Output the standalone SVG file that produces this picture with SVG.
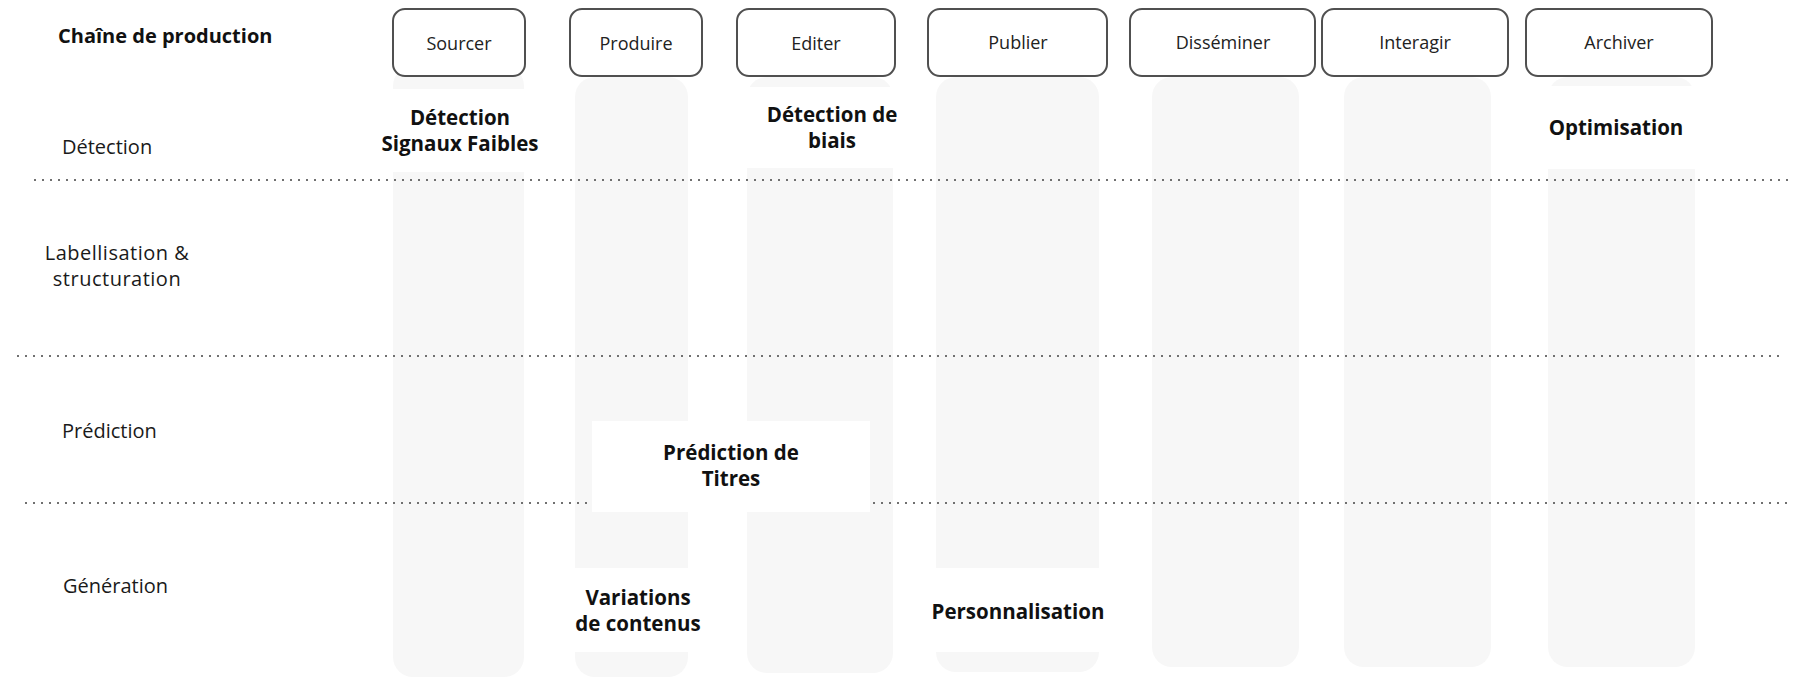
<svg xmlns="http://www.w3.org/2000/svg" width="1793" height="678" viewBox="0 0 1793 678">
<style>
.strip{fill:#f7f7f7}
.box{fill:#fff;stroke:#505050;stroke-width:2}
.bg{fill:#fff}
.sep{stroke:#707070;stroke-width:2;stroke-dasharray:2 6;fill:none}
.step{font-family:"Open Sans","Liberation Sans",sans-serif;font-size:18px;fill:#222;text-anchor:middle}
.row{font-family:"Open Sans","Liberation Sans",sans-serif;font-size:20px;fill:#1a1a1a}
.ctr{text-anchor:middle;letter-spacing:0.5px}
.uc{font-family:"Open Sans","Liberation Sans",sans-serif;font-size:20.5px;font-weight:700;fill:#111;text-anchor:middle}
.title{font-family:"Open Sans","Liberation Sans",sans-serif;font-size:20px;font-weight:700;fill:#111}
</style>
<rect width="1793" height="678" fill="#fff"/>
<g id="columns">
<rect class="strip" x="393" y="66" width="131" height="611" rx="20"/>
<rect class="strip" x="575" y="77" width="113" height="600" rx="20"/>
<rect class="strip" x="747" y="77" width="146" height="596" rx="20"/>
<rect class="strip" x="936" y="77" width="163" height="595" rx="20"/>
<rect class="strip" x="1152" y="77" width="147" height="590" rx="20"/>
<rect class="strip" x="1344" y="77" width="147" height="590" rx="20"/>
<rect class="strip" x="1548" y="77" width="147" height="590" rx="20"/>
</g>
<g id="connectors">
<line class="sep" x1="34" y1="180" x2="1793" y2="180"/>
<line class="sep" x1="17" y1="356" x2="1782" y2="356"/>
<line class="sep" x1="25" y1="503" x2="1793" y2="503"/>
</g>
<g id="title"><text class="title" x="58" y="43">Chaîne de production</text></g>
<g id="row-detection"><text class="row" x="62" y="154">Détection</text></g>
<g id="row-labellisation"><text class="row ctr" x="117" y="260">Labellisation &amp;</text><text class="row ctr" x="117" y="286">structuration</text></g>
<g id="row-prediction"><text class="row" x="62" y="438">Prédiction</text></g>
<g id="row-generation"><text class="row" x="63" y="593">Génération</text></g>
<g id="uc-signaux">
<rect class="bg" x="380" y="89" width="165" height="83"/>
<text class="uc" x="460" y="125">Détection</text><text class="uc" x="460" y="151">Signaux Faibles</text>
</g>
<g id="uc-biais">
<rect class="bg" x="744" y="87" width="156" height="81"/>
<text class="uc" x="832" y="122">Détection de</text><text class="uc" x="832" y="148">biais</text>
</g>
<g id="uc-optimisation">
<rect class="bg" x="1544" y="86" width="155" height="83"/>
<text class="uc" x="1616" y="135">Optimisation</text>
</g>
<g id="uc-titres">
<rect class="bg" x="592" y="421" width="278" height="91"/>
<text class="uc" x="731" y="460">Prédiction de</text><text class="uc" x="731" y="486">Titres</text>
</g>
<g id="uc-variations">
<rect class="bg" x="570" y="568" width="132" height="84"/>
<text class="uc" x="638" y="605">Variations</text><text class="uc" x="638" y="631">de contenus</text>
</g>
<g id="uc-personnalisation">
<rect class="bg" x="930" y="568" width="176" height="84"/>
<text class="uc" x="1018" y="619">Personnalisation</text>
</g>
<g id="step-sourcer"><rect class="box" x="393" y="9" width="132" height="67" rx="12"/><text class="step" x="459" y="50">Sourcer</text></g>
<g id="step-produire"><rect class="box" x="570" y="9" width="132" height="67" rx="12"/><text class="step" x="636" y="50">Produire</text></g>
<g id="step-editer"><rect class="box" x="737" y="9" width="158" height="67" rx="12"/><text class="step" x="816" y="50">Editer</text></g>
<g id="step-publier"><rect class="box" x="928" y="9" width="179" height="67" rx="12"/><text class="step" x="1018" y="49">Publier</text></g>
<g id="step-disseminer"><rect class="box" x="1130" y="9" width="185" height="67" rx="12"/><text class="step" x="1223" y="49">Disséminer</text></g>
<g id="step-interagir"><rect class="box" x="1322" y="9" width="186" height="67" rx="12"/><text class="step" x="1415" y="49">Interagir</text></g>
<g id="step-archiver"><rect class="box" x="1526" y="9" width="186" height="67" rx="12"/><text class="step" x="1619" y="49">Archiver</text></g>
</svg>
